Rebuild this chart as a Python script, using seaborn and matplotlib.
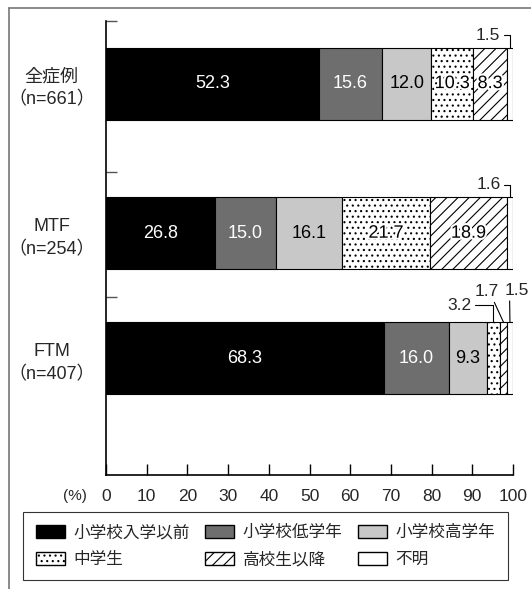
import numpy as np
import pandas as pd
import matplotlib.pyplot as plt
import matplotlib.patheffects as pe
from matplotlib.lines import Line2D
from matplotlib.patches import Patch
import seaborn as sns

groups = ['全症例\n（n=661）', 'MTF\n（n=254）', 'FTM\n（n=407）']
periods = ['小学校入学以前', '小学校低学年', '小学校高学年', '中学生', '高校生以降', '不明']
all_cases = [52.3, 15.6, 12.0, 10.3, 8.3, 1.5]
mtf = [26.8, 15.0, 16.1, 21.7, 18.9, 1.6]
ftm = [68.3, 16.0, 9.3, 3.2, 1.7, 1.5]
xticks = [0, 10, 20, 30, 40, 50, 60, 70, 80, 90, 100]

colors = ['#000000', '#6e6e6e', '#c8c8c8', 'white', 'white', 'white']
hatches = [None, None, None, '...', '///', None]
text_colors = ['white', 'white', 'black', 'black', 'black', 'black']

sns.set_style('ticks')
plt.rcParams['font.family'] = ['Liberation Sans', 'Noto Sans CJK JP', 'DejaVu Sans']
plt.rcParams['hatch.linewidth'] = 0.8

df = pd.DataFrame([all_cases, mtf, ftm], columns=periods, index=groups)

# layout of the bars on the y axis
ypos = [5.44, 3.36, 1.625]
bar_h = 1.0
sep_ticks = [6.31, 4.21, 2.47]

fig = plt.figure(figsize=(5.31, 5.89), dpi=100)
ax = fig.add_axes([106 / 531, 1 - 475 / 589, 407 / 531, 454 / 589])

left = np.zeros(len(groups))
for i, p in enumerate(periods):
    vals = df[p].values
    ax.barh(ypos, vals, left=left, height=bar_h, color=colors[i], edgecolor='black',
            linewidth=0.8, hatch=hatches[i], label=p)
    for y, v, l in zip(ypos, vals, left):
        if v >= 5:
            t = ax.text(l + v / 2, y, f'{v:.1f}', ha='center', va='center',
                        color=text_colors[i], fontsize=13)
            if hatches[i]:
                t.set_path_effects([pe.withStroke(linewidth=3, foreground='white')])
    left += vals

# small segments labelled outside with leader lines
# (group, period, dx pt, dy pt, ha, relpos, connection)
small = [
    (0, 5, -7, 9, 'right', (1, 0.5), 'angle,angleA=0,angleB=90,rad=0'),
    (1, 5, -7, 9, 'right', (1, 0.5), 'angle,angleA=0,angleB=90,rad=0'),
    (2, 3, -16, 12, 'right', (1, 0.5), 'angle,angleA=0,angleB=90,rad=0'),
    (2, 4, -12, 22, 'center', (0.75, 0), 'arc3'),
    (2, 5, 5, 23, 'center', (0.2, 0), 'arc3'),
]
for g, k, dx, dy, ha, rp, cs in small:
    row = df.iloc[g].values
    v = row[k]
    xc = row[:k].sum() + v / 2
    ax.annotate(f'{v:.1f}', xy=(xc, ypos[g] + bar_h / 2), xytext=(dx, dy),
                textcoords='offset points', ha=ha, va='center', fontsize=12.5,
                arrowprops=dict(arrowstyle='-', connectionstyle=cs, relpos=rp,
                                shrinkA=0, shrinkB=0, lw=0.8, color='black'))

ax.set_xlim(0, 100)
ax.set_ylim(0, 6.31)
ax.set_xticks(xticks)
ax.tick_params(axis='x', direction='in', length=8, width=1, pad=10, labelsize=12.5,
               bottom=True, color='black')
ax.set_yticks(sep_ticks)
ax.set_yticklabels([])
ax.tick_params(axis='y', which='major', direction='in', length=8, width=1,
               left=True, color='#555555')
ax.set_yticks(ypos, minor=True)
ax.set_yticklabels(groups, minor=True, fontsize=13)
ax.tick_params(axis='y', which='minor', length=0, pad=8)
for lbl in ax.get_yticklabels(minor=True):
    lbl.set_multialignment('center')
    lbl.set_linespacing(1.45)

for s in ['top', 'right']:
    ax.spines[s].set_visible(False)
for s in ['left', 'bottom']:
    ax.spines[s].set_color('black')
    ax.spines[s].set_linewidth(1.2)

fig.text(75 / 531, 1 - 496 / 589, '(%)', fontsize=11, ha='center', va='center')

handles = [Patch(facecolor=colors[i], edgecolor='black', hatch=hatches[i], label=periods[i])
           for i in range(len(periods))]
order = [0, 3, 1, 4, 2, 5]
leg = fig.legend([handles[i] for i in order], [periods[i] for i in order], ncol=3,
                 loc='upper left', bbox_to_anchor=(23 / 531, 1 - 575 / 589, 485 / 531, 63 / 589),
                 mode='expand', frameon=True, fancybox=False, edgecolor='black',
                 fontsize=12, handlelength=1.75, handleheight=0.85, handletextpad=0.5,
                 borderaxespad=0, columnspacing=1.0, labelspacing=0.7, borderpad=0.75)
leg.get_frame().set_linewidth(0.8)

# outer frame (left and top)
fig.add_artist(Line2D([9 / 531, 9 / 531], [0, 1 - 8 / 589], transform=fig.transFigure,
                      color='#777777', lw=1.2))
fig.add_artist(Line2D([9 / 531, 1], [1 - 8 / 589, 1 - 8 / 589], transform=fig.transFigure,
                      color='#777777', lw=1.2))

fig.savefig('out.png', dpi=100)
